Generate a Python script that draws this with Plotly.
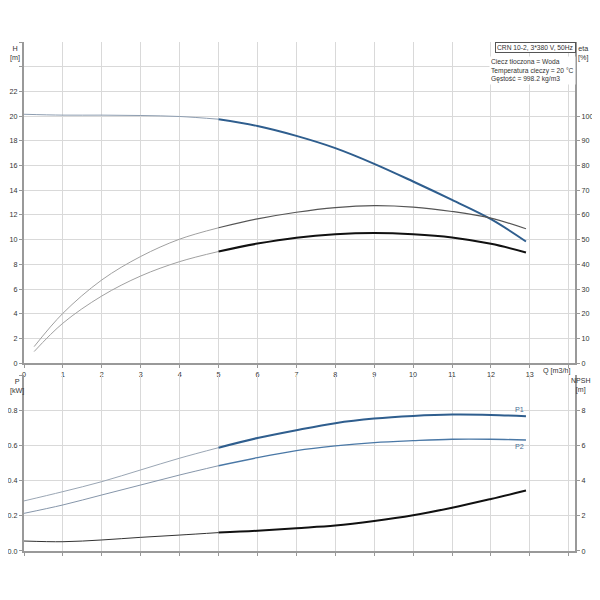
import plotly.graph_objects as go

# pump curve data (Q in m3/h)
q = [0, 1, 2, 3, 4, 5, 6, 7, 8, 9, 10, 11, 12, 12.9]
head = [20.15, 20.08, 20.08, 20.05, 19.97, 19.75, 19.2, 18.4, 17.41, 16.14, 14.71, 13.22, 11.66, 9.85]

q_eta = [0.26, 1, 2, 3, 4, 5, 6, 7, 8, 9, 10, 11, 12, 12.9]
eta_upper = [6.7, 20.2, 33.7, 43.2, 50.2, 54.8, 58.4, 61.1, 63.0, 63.8, 63.2, 61.4, 58.7, 54.4]
eta_lower = [4.7, 16.2, 27.2, 35.3, 41.1, 45.2, 48.4, 50.8, 52.2, 52.7, 52.2, 50.9, 48.3, 44.8]

p1 = [0.286, 0.339, 0.396, 0.463, 0.53, 0.59, 0.645, 0.69, 0.73, 0.756, 0.771, 0.779, 0.777, 0.77]
p2 = [0.215, 0.263, 0.32, 0.377, 0.434, 0.487, 0.533, 0.573, 0.6, 0.619, 0.63, 0.638, 0.638, 0.634]
npsh = [0.57, 0.53, 0.63, 0.78, 0.91, 1.05, 1.16, 1.3, 1.45, 1.71, 2.04, 2.47, 2.97, 3.45]

x_ticks = list(range(0, 15))
x_labels = [str(v) for v in range(0, 14)] + [""]
h_ticks = list(range(0, 27, 2))
eta_ticks = list(range(0, 101, 10))
p_ticks = [0.0, 0.2, 0.4, 0.6, 0.8, 1.0]
p_labels = ["0.0", "0.2", "0.4", "0.6", "0.8", ""]
npsh_ticks = [0, 2, 4, 6, 8]

info_title = "CRN 10-2, 3*380 V, 50Hz"
info_lines = ["Ciecz tłoczona = Woda", "Temperatura cieczy = 20 °C", "Gęstość = 998.2 kg/m3"]

SPLIT = 5  # start of the thick (operating) part

fig = go.Figure()


def add_curve(xs, ys, xa, ya, thin_color, thick_color, thick_width):
    lo = [(a, b) for a, b in zip(xs, ys) if a <= SPLIT]
    hi = [(a, b) for a, b in zip(xs, ys) if a >= SPLIT]
    for pts, col, w in ((lo, thin_color, 1), (hi, thick_color, thick_width)):
        fig.add_trace(go.Scatter(
            x=[p[0] for p in pts], y=[p[1] for p in pts],
            xaxis=xa, yaxis=ya, mode="lines",
            line=dict(color=col, width=w, shape="spline", smoothing=1),
            showlegend=False, hoverinfo="skip",
        ))


add_curve(q, head, "x", "y", "#8d9db0", "#2f5e8e", 2)
add_curve(q_eta, eta_upper, "x", "y2", "#a0a0a0", "#555555", 1.2)
add_curve(q_eta, eta_lower, "x", "y2", "#a0a0a0", "#111111", 2)
add_curve(q, p1, "x2", "y3", "#9aa6b4", "#2f5e8e", 2)
add_curve(q, p2, "x2", "y3", "#8696aa", "#4a78a6", 1.4)
add_curve(q, npsh, "x2", "y4", "#333333", "#111111", 2)

tick_font = dict(family="Liberation Sans, Arial, sans-serif", size=7.2, color="#333333")
small_font = dict(tick_font, size=6.7)
grid = "#d9d9d9"
axis_line = "#999999"
x_range = [0, 14.16]

common_x = dict(range=x_range, tickvals=x_ticks, showgrid=True, gridcolor=grid,
                showline=True, linecolor=axis_line, linewidth=2, ticks="outside",
                ticklen=3, tickcolor=axis_line, zeroline=False, tickfont=tick_font,
                automargin=False)
common_y = dict(showgrid=True, gridcolor=grid, showline=True, linecolor=axis_line,
                linewidth=2, ticks="outside", ticklen=3, tickcolor=axis_line,
                zeroline=False, tickfont=tick_font, automargin=False)

# the page shows the figure inside an 8px body margin, so it is sized to 584
fig.update_layout(
    width=584, height=584,
    margin=dict(l=16, r=17, t=34, b=41),
    paper_bgcolor="white", plot_bgcolor="white",
    font=tick_font,
    xaxis=dict(common_x, domain=[0, 1], anchor="y", ticktext=x_labels),
    yaxis=dict(common_y, domain=[0.369, 1], range=[0, 26], tickvals=h_ticks,
               ticktext=[str(v) if v <= 22 else "" for v in h_ticks]),
    yaxis2=dict(common_y, overlaying="y", side="right", anchor="x", range=[0, 130],
                tickvals=eta_ticks, showgrid=False),
    xaxis2=dict(common_x, domain=[0, 1], anchor="y3", showticklabels=False),
    yaxis3=dict(common_y, domain=[0, 0.3458], range=[0, 1.005], tickvals=p_ticks,
                ticktext=p_labels),
    yaxis4=dict(common_y, overlaying="y3", side="right", anchor="x2", range=[0, 10.05],
                tickvals=npsh_ticks, showgrid=False),
)

lab = dict(xref="paper", yref="paper", showarrow=False, font=tick_font)
fig.add_annotation(lab, x=-0.029, y=1.0, text="H<br>[m]", xanchor="left", yanchor="top")
fig.add_annotation(lab, x=1.0145, y=1.0, text="eta<br>[%]", xanchor="center", yanchor="top")
fig.add_annotation(lab, x=0.9964, y=0.354, text="Q [m3/h]", xanchor="right", yanchor="middle")
fig.add_annotation(lab, x=-0.029, y=0.3458, text="P<br>[kW]", xanchor="left", yanchor="top")
fig.add_annotation(lab, x=1.030, y=0.3458, text="NPSH<br>[m]", xanchor="right", yanchor="top",
                   font=dict(tick_font, size=7))

fig.add_annotation(lab, x=1.0015, y=1.0, text=info_title, xanchor="right", yanchor="top",
                   font=small_font, bordercolor="#555555", borderwidth=1, bgcolor="white",
                   borderpad=1)
fig.add_annotation(lab, x=0.844, y=0.9725, text="<br>".join(info_lines), xanchor="left",
                   yanchor="top", align="left", font=small_font, bgcolor="white")

fig.add_annotation(x=12.9, y=p1[-1], xref="x2", yref="y3", text="P1", showarrow=False,
                   font=dict(tick_font, color="#4a6f96"), xanchor="right", yanchor="bottom")
fig.add_annotation(x=12.9, y=p2[-1], xref="x2", yref="y3", text="P2", showarrow=False,
                   font=dict(tick_font, color="#4a6f96"), xanchor="right", yanchor="top")

fig.write_html("out.html")
